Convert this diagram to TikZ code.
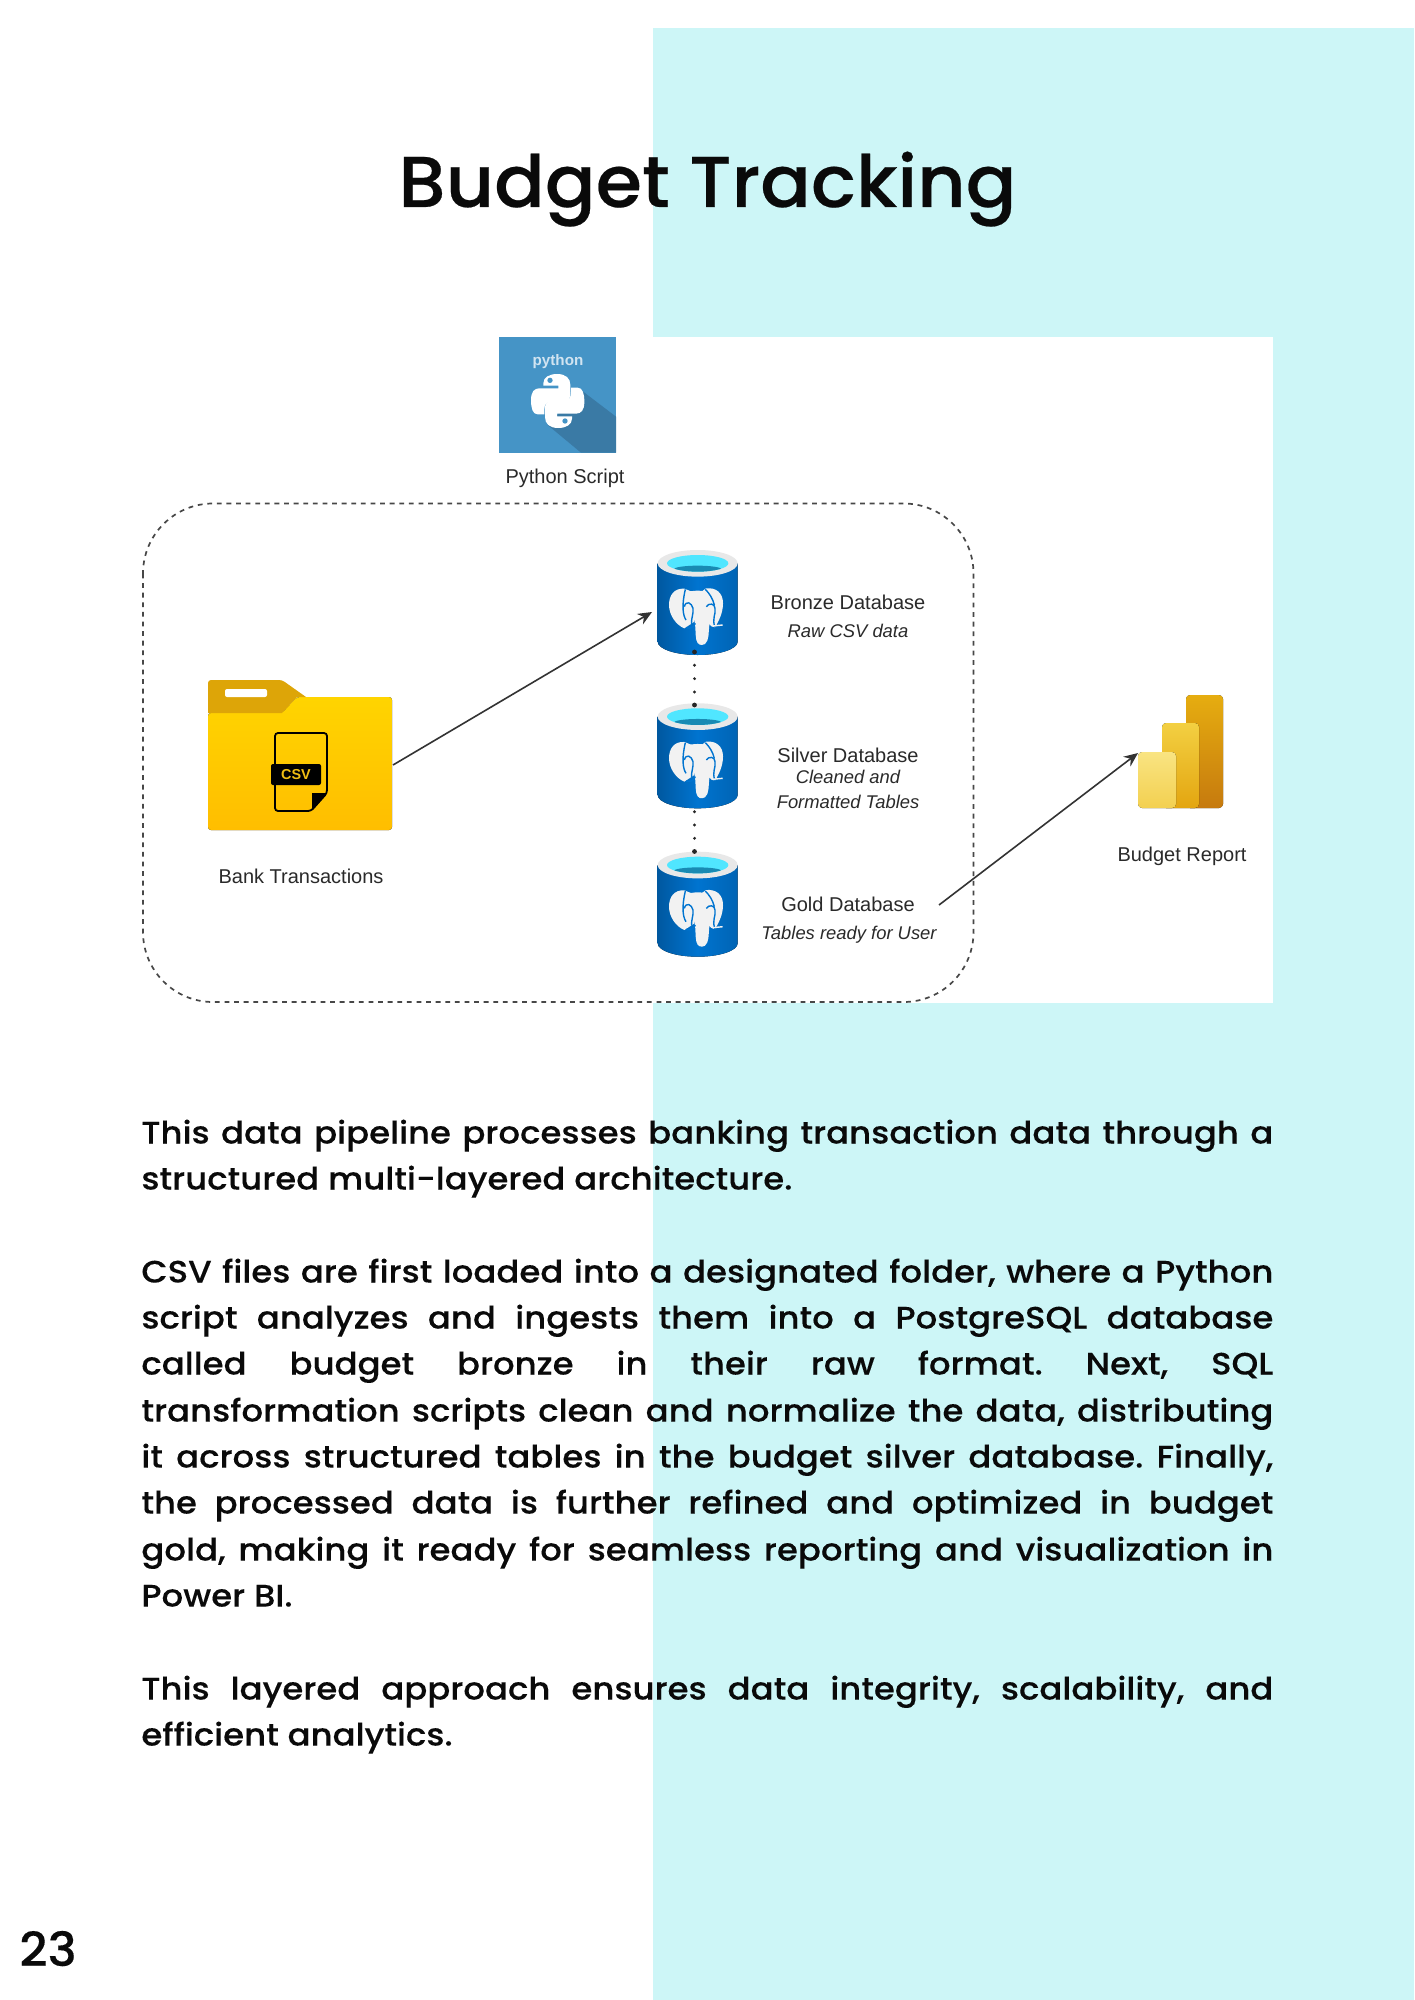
\documentclass[tikz,border=0pt]{standalone}
\usepackage{fontspec}
\usetikzlibrary{arrows.meta,shapes.geometric}
\frenchspacing
\newfontfamily\arialf{Liberation Sans}
\newfontfamily\bodyf{Poppins Medium}[FakeStretch=1.095,FakeBold=0.1]
\newfontfamily\titlef{Poppins Medium}[FakeStretch=1.04,FakeBold=0.3]
\definecolor{cyanbg}{HTML}{CDF6F7}
\definecolor{inktext}{HTML}{0A0A0A}
\definecolor{dgtext}{HTML}{2A2A2A}
\definecolor{pybg}{HTML}{4594C6}
\definecolor{pyshadow}{HTML}{3A7AA5}
\definecolor{dbedge}{HTML}{0058A0}
\definecolor{dbedgeB}{HTML}{0064B4}
\definecolor{dbmid}{HTML}{0074D0}
\definecolor{dbrim}{HTML}{E8E8E8}
\definecolor{dbwater}{HTML}{50E6FF}
\definecolor{dbdeep}{HTML}{198AB3}
\definecolor{eleph}{HTML}{F2F2F2}
\definecolor{foldA}{HTML}{FFD400}
\definecolor{foldB}{HTML}{FFBE00}
\definecolor{foldtab}{HTML}{DDA508}
\definecolor{csvgold}{HTML}{F0BE14}
\definecolor{pbiA}{HTML}{E6AD10}
\definecolor{pbiB}{HTML}{C67A0E}
\definecolor{pbiC}{HTML}{F3D042}
\definecolor{pbiD}{HTML}{E3A510}
\definecolor{pbiE}{HTML}{F9E482}
\definecolor{pbiF}{HTML}{F3D050}
\newcommand{\jl}[1]{\makebox[566pt][s]{#1}}
\tikzset{
  bodyline/.style={anchor=base west,inner sep=0pt,font=\bodyf\fontsize{15.5}{18}\selectfont,text=inktext},
  dglabel/.style={inner sep=0pt,text=dgtext,font=\arialf\fontsize{10}{12}\selectfont},
  dgnote/.style={inner sep=0pt,text=dgtext,font=\arialf\itshape\fontsize{9.2}{11}\selectfont},
  flow/.style={draw=black!80,line width=0.8pt,-{Stealth[length=7pt,width=6pt]}},
  dotlink/.style={draw=black!85,line width=1.6pt,line cap=round,dash pattern=on 0pt off 6.66pt},
  dbcyl/.pic={
    \begin{scope}[x=0.16667pt,y=-0.16667pt]
      \fill[left color=dbedge,right color=dbedgeB,middle color=dbmid]
        (50,70) -- (50,305) .. controls (50,327) and (104,345) .. (170,345)
        .. controls (236,345) and (290,327) .. (290,305) -- (290,70) -- cycle;
      \fill[dbrim] (170,70) ellipse[x radius=120,y radius=40];
      \fill[dbwater] (170,70) ellipse[x radius=92,y radius=25];
      \begin{scope}
        \clip (170,70) ellipse[x radius=92,y radius=25];
        \fill[dbdeep] (170,88) ellipse[x radius=72,y radius=11];
      \end{scope}
      % elephant
      \fill[eleph] (130,146) .. controls (100,144) and (84,165) .. (84,195)
        .. controls (84,225) and (105,255) .. (130,265)
        .. controls (140,258) and (150,252) .. (160,245)
        -- (165,160) -- cycle;
      \fill[eleph] (195,145) .. controls (225,142) and (246,158) .. (246,190)
        .. controls (246,220) and (232,245) .. (222,262)
        .. controls (215,262) and (208,258) .. (204,252)
        -- (175,160) -- cycle;
      \fill[eleph] (135,158) .. controls (155,150) and (185,150) .. (205,158)
        .. controls (218,190) and (212,230) .. (205,255)
        .. controls (202,280) and (205,300) .. (192,312)
        .. controls (180,318) and (170,315) .. (166,300)
        .. controls (162,280) and (165,260) .. (160,240)
        .. controls (150,220) and (132,200) .. (135,158) -- cycle;
      \draw[dbmid,line width=0.7pt]
        (133,148) .. controls (122,195) and (125,225) .. (135,240);
      \draw[dbmid,line width=0.7pt]
        (130,200) .. controls (135,180) and (152,188) .. (156,205)
        .. controls (158,222) and (150,235) .. (152,252);
      \draw[dbmid,line width=0.7pt]
        (196,200) .. controls (203,188) and (222,190) .. (222,205)
        .. controls (225,225) and (212,235) .. (222,262);
      \draw[dbmid,line width=0.7pt] (193,148) .. controls (205,160) and (215,175) .. (220,195);
      \draw[dbmid,line width=0.7pt] (135,263) .. controls (148,267) and (158,262) .. (163,250);
      \draw[eleph,line width=0.7pt] (215,258) -- (245,255);
    \end{scope}
  }
}
\begin{document}
\begin{tikzpicture}[x=0.5pt,y=-0.5pt]
\useasboundingbox (0,0) rectangle (1414,2000);
\fill[white] (0,0) rectangle (1414,2000);
\fill[cyanbg] (653,28) rectangle (1414,2000);
\fill[white] (653,337) rectangle (1273,1003);

\node[anchor=base,inner sep=0pt,text=inktext,font=\titlef\fontsize{36}{40}\selectfont] (title) at (707.5,207) {Budget Tracking};

% Python icon
\fill[pybg] (499,337) rectangle (616,453);
\begin{scope}[shift={(481,320)},x=0.16667pt,y=-0.16667pt]
  \fill[pyshadow] (300,210) -- (405,290) -- (405,398) -- (300,398) -- (200,315) -- cycle;
  \fill[white] (187,190) .. controls (187,172) and (205,162) .. (228,162)
    .. controls (255,162) and (268,175) .. (268,195) -- (268,225)
    .. controls (268,240) and (255,245) .. (240,245) -- (210,245)
    .. controls (195,245) and (190,255) .. (190,270) -- (190,283) -- (170,283)
    .. controls (155,283) and (150,265) .. (150,240)
    .. controls (150,215) and (160,205) .. (175,205) -- (232,205) -- (232,197) -- (187,197) -- cycle;
  \fill[white] (273,296) .. controls (273,314) and (255,324) .. (232,324)
    .. controls (205,324) and (192,311) .. (192,291) -- (192,261)
    .. controls (192,246) and (205,241) .. (220,241) -- (250,241)
    .. controls (265,241) and (270,231) .. (270,216) -- (270,203) -- (290,203)
    .. controls (305,203) and (310,221) .. (310,246)
    .. controls (310,271) and (300,281) .. (285,281) -- (228,281) -- (228,289) -- (273,289) -- cycle;
  \fill[pybg] (207,181) circle[radius=8];
  \fill[pybg] (252,303) circle[radius=8];
\end{scope}
\node[inner sep=0pt,text=white!75!pybg,font=\arialf\bfseries\fontsize{7.6}{10}\selectfont] (pyword) at (558,362) {python};
\node[dglabel] (pylabel) at (565,478.5) {Python Script};

% Dashed container
\draw[black!72,line width=0.85pt,dash pattern=on 2.4pt off 2.4pt,rounded corners=35pt] (143,503.5) rectangle (973.5,1002);

% Folder
\fill[rounded corners=1.5pt,top color=foldA,bottom color=foldB]
  (208,713) -- (282,713) -- (297,697) -- (392,697) -- (392,830) -- (208,830) -- cycle;
\fill[foldtab] (208,713) [rounded corners=1.5pt] -- (208,680) -- (282,680) [sharp corners] -- (306,697) -- (297,697) -- (282,713) -- cycle;
\fill[white,rounded corners=1pt] (225,689) rectangle (267,697);
\draw[black,line width=0.9pt,rounded corners=1.5pt] (275,764) -- (275,733) -- (327,733) -- (327,793) -- (311,811) -- (275,811) -- (275,785);
\fill[black] (327,793) -- (312,793) -- (312,810) -- cycle;
\node[inner sep=0pt,minimum width=25pt,minimum height=10.5pt,fill=black,rounded corners=1pt,text=csvgold,font=\arialf\bfseries\fontsize{7.2}{8}\selectfont] (csvtag) at (296,774.5) {CSV};
\node[dglabel] (banklabel) at (301,876) {Bank Transactions};

% Dotted links between databases
\coordinate (bronzeBottom) at (694.5,652);
\coordinate (silverTop) at (694.5,705);
\coordinate (silverBottom) at (694.5,811.7);
\coordinate (goldTop) at (694.5,851.5);
\draw[dotlink] (bronzeBottom) -- (silverTop);
\draw[dotlink] (silverBottom) -- (goldTop);

% Databases
\pic at (641,540) {dbcyl};
\pic at (641,693.3) {dbcyl};
\pic at (641,841.7) {dbcyl};
\fill[black!85] (bronzeBottom) circle[radius=2.4];
\fill[black!85] (silverTop) circle[radius=2.4];
\fill[black!85] (goldTop) circle[radius=2.4];

\node[dglabel] (bronzelabel) at (848,602) {Bronze Database};
\node[dgnote] (bronzenote) at (848,631) {Raw CSV data};
\node[dglabel] (silverlabel) at (848,755) {Silver Database};
\node[dgnote] (silvernoteA) at (848,777) {Cleaned and};
\node[dgnote] (silvernoteB) at (848,802) {Formatted Tables};
\node[dglabel] (goldlabel) at (848,904) {Gold Database};
\node[dgnote] (goldnote) at (849,935) {Tables ready for User};

% Power BI
\fill[rounded corners=2pt,top color=pbiA,bottom color=pbiB] (1186,695) rectangle (1223,808);
\fill[rounded corners=2pt,top color=pbiC,bottom color=pbiD] (1162,723) rectangle (1199,808);
\fill[rounded corners=2pt,top color=pbiE,bottom color=pbiF] (1138,752) rectangle (1176,808);
\node[dglabel] (reportlabel) at (1182,856) {Budget Report};

% Arrows
\coordinate (folderOut) at (393,765);
\coordinate (bronzeIn) at (652,612);
\coordinate (goldOut) at (939,905);
\coordinate (reportIn) at (1138,753);
\draw[flow] (folderOut) -- (bronzeIn);
\draw[flow] (goldOut) -- (reportIn);

% Body text
\node[bodyline] (l1) at (141,1143.5) {\jl{This data pipeline processes banking transaction data through a}};
\node[bodyline] (l2) at (141,1189.5) {structured multi-layered architecture.};
\node[bodyline] (l3) at (141,1282.5) {\jl{CSV files are first loaded into a designated folder, where a Python}};
\node[bodyline] (l4) at (141,1328.5) {\jl{script analyzes and ingests them into a PostgreSQL database}};
\node[bodyline] (l5) at (141,1374.5) {\jl{called budget bronze in their raw format. Next, SQL}};
\node[bodyline] (l6) at (141,1421.5) {\jl{transformation scripts clean and normalize the data, distributing}};
\node[bodyline] (l7) at (141,1467.5) {\jl{it across structured tables in the budget silver database. Finally,}};
\node[bodyline] (l8) at (141,1513.5) {\jl{the processed data is further refined and optimized in budget}};
\node[bodyline] (l9) at (141,1560.5) {\jl{gold, making it ready for seamless reporting and visualization in}};
\node[bodyline] (l10) at (141,1606.5) {Power BI.};
\node[bodyline] (l11) at (141,1699.5) {\jl{This layered approach ensures data integrity, scalability, and}};
\node[bodyline] (l12) at (141,1745.5) {efficient analytics.};

\node[anchor=base west,inner sep=0pt,text=inktext,font=\titlef\fontsize{23.5}{26}\selectfont] (pagenum) at (19,1966) {23};
\end{tikzpicture}
\end{document}
